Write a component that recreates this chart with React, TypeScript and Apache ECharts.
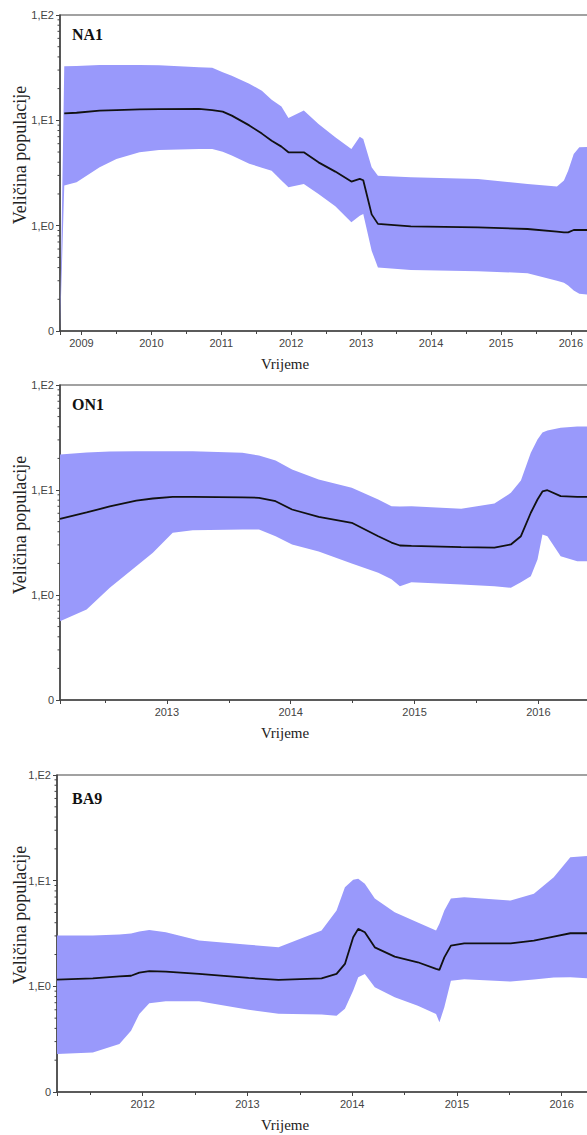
import React, { useEffect, useRef } from "react";
import * as echarts from "echarts";

// ---------- data ----------
const panelNames = ["NA1", "ON1", "BA9"];
const yAxisTitle = "Veličina populacije";
const xAxisTitle = "Vrijeme";
const yTickLabels = ["0", "1,E0", "1,E1", "1,E2"]; // for 10^-1 .. 10^2
const yMinorTicks = [
  0.2, 0.3, 0.4, 0.5, 0.6, 0.7, 0.8, 0.9,
  2, 3, 4, 5, 6, 7, 8, 9,
  20, 30, 40, 50, 60, 70, 80, 90,
];

// NA1
const na1Time = [2008.693, 2008.754, 2008.93, 2009.26, 2009.5, 2009.83, 2010.11, 2010.68, 2010.87, 2011.02, 2011.15, 2011.4, 2011.58, 2011.72, 2011.86, 2011.96, 2012.18, 2012.39, 2012.63, 2012.86, 2012.98, 2013.03, 2013.15, 2013.24, 2013.71, 2014.67, 2015.38, 2015.8, 2015.9, 2015.96, 2016.04, 2016.12, 2016.3];
const na1Upper = [0.1, 32.6, 32.8, 33.6, 33.6, 33.6, 33.3, 31.9, 31.5, 28.6, 26.5, 22.3, 19.1, 15.7, 13.5, 10.5, 12.4, 9.24, 6.9, 5.35, 7.0, 6.66, 3.58, 2.98, 2.88, 2.78, 2.49, 2.35, 2.68, 3.33, 4.8, 5.54, 5.6];
const na1Median = [null, 11.65, 11.8, 12.36, 12.5, 12.7, 12.8, 12.83, 12.5, 12.1, 11.08, 8.95, 7.48, 6.41, 5.63, 4.97, 4.97, 3.99, 3.26, 2.62, 2.78, 2.7, 1.28, 1.04, 0.985, 0.963, 0.93, 0.877, 0.864, 0.864, 0.91, 0.91, 0.91];
const na1Lower = [0.1, 2.4, 2.58, 3.58, 4.3, 4.97, 5.24, 5.35, 5.35, 5.04, 4.64, 3.88, 3.55, 3.33, 2.68, 2.31, 2.49, 2.0, 1.53, 1.075, 1.24, 1.29, 0.579, 0.4, 0.38, 0.37, 0.354, 0.3, 0.287, 0.27, 0.242, 0.226, 0.22];

// ON1
const on1Time = [2012.137, 2012.352, 2012.539, 2012.753, 2012.887, 2013.047, 2013.208, 2013.61, 2013.744, 2013.878, 2014.011, 2014.226, 2014.493, 2014.707, 2014.814, 2014.882, 2014.975, 2015.377, 2015.645, 2015.778, 2015.859, 2015.939, 2015.993, 2016.033, 2016.073, 2016.18, 2016.314, 2016.475];
const on1Upper = [21.8, 22.8, 23.3, 23.4, 23.4, 23.4, 23.4, 22.6, 21.3, 19.1, 15.7, 12.6, 10.5, 8.12, 7.01, 6.97, 7.01, 6.62, 7.44, 9.4, 12.3, 22.6, 30.3, 35.3, 36.9, 39.1, 40.2, 40.2];
const on1Median = [5.32, 6.11, 6.97, 7.94, 8.3, 8.61, 8.61, 8.52, 8.43, 7.82, 6.52, 5.55, 4.87, 3.63, 3.16, 2.96, 2.94, 2.86, 2.82, 3.03, 3.63, 6.07, 8.12, 9.68, 9.95, 8.73, 8.61, 8.61];
const on1Lower = [0.563, 0.728, 1.17, 1.88, 2.52, 3.91, 4.14, 4.2, 4.2, 3.63, 3.03, 2.6, 2.0, 1.63, 1.41, 1.21, 1.32, 1.26, 1.21, 1.17, 1.32, 1.51, 2.18, 3.77, 3.63, 2.34, 2.1, 2.1];

// BA9
const ba9Time = [2011.182, 2011.524, 2011.778, 2011.889, 2011.968, 2012.063, 2012.221, 2012.538, 2013.012, 2013.297, 2013.708, 2013.851, 2013.931, 2014.01, 2014.058, 2014.121, 2014.216, 2014.406, 2014.627, 2014.801, 2014.833, 2014.88, 2014.943, 2015.07, 2015.513, 2015.735, 2015.925, 2016.083, 2016.336];
const ba9Upper = [3.02, 3.02, 3.09, 3.16, 3.3, 3.41, 3.25, 2.71, 2.48, 2.34, 3.37, 5.21, 8.66, 10.2, 10.4, 9.33, 6.77, 5.02, 4.01, 3.37, 3.92, 5.21, 6.77, 6.96, 6.48, 7.5, 10.8, 16.7, 17.3];
const ba9Median = [1.157, 1.19, 1.24, 1.26, 1.35, 1.39, 1.38, 1.31, 1.2, 1.15, 1.19, 1.31, 1.63, 2.91, 3.5, 3.25, 2.34, 1.91, 1.69, 1.46, 1.43, 1.88, 2.43, 2.55, 2.55, 2.71, 2.96, 3.18, 3.18];
const ba9Lower = [0.229, 0.237, 0.285, 0.38, 0.548, 0.69, 0.721, 0.721, 0.601, 0.551, 0.54, 0.528, 0.615, 0.911, 1.22, 1.31, 0.978, 0.787, 0.656, 0.548, 0.456, 0.633, 1.13, 1.17, 1.11, 1.16, 1.21, 1.22, 1.18];

// ---------- layout ----------
const CHART_W = 620;
const CHART_H = 1135;
const BAND = "#9999fb";
const AXIS = "#444";

const panels = [
  { name: panelNames[0], time: na1Time, upper: na1Upper, median: na1Median, lower: na1Lower, left: 60, top: 15, height: 316, xMin: 2008.693, pxPerYear: 70.3, labelDx: 12, labelDy: 19 },
  { name: panelNames[1], time: on1Time, upper: on1Upper, median: on1Median, lower: on1Lower, left: 60, top: 385, height: 315, xMin: 2012.137, pxPerYear: 124.5, labelDx: 12, labelDy: 19 },
  { name: panelNames[2], time: ba9Time, upper: ba9Upper, median: ba9Median, lower: ba9Lower, left: 57, top: 775, height: 317, xMin: 2011.182, pxPerYear: 105.3, labelDx: 15, labelDy: 23 },
];

function buildOption() {
  const grid = panels.map((p) => ({
    left: p.left,
    top: p.top,
    width: CHART_W - p.left,
    height: p.height,
    show: true,
    borderColor: AXIS,
    borderWidth: 1.2,
    backgroundColor: "#fff",
  }));

  const xAxis = panels.map((p, i) => ({
    type: "value",
    gridIndex: i,
    min: p.xMin,
    max: p.xMin + (CHART_W - p.left) / p.pxPerYear,
    splitNumber: 8,
    minInterval: 1,
    maxInterval: 1,
    axisLine: { show: true, lineStyle: { color: AXIS, width: 1.5 } },
    axisTick: { show: true, length: 4, lineStyle: { color: AXIS, width: 1 } },
    minorTick: { show: true, splitNumber: 2, length: 3, lineStyle: { color: AXIS, width: 1 } },
    splitLine: { show: false },
    axisLabel: {
      margin: 6,
      fontSize: 11,
      fontFamily: "Liberation Sans",
      color: "#444",
      formatter: (v: number) => (Math.abs(v - Math.round(v)) < 1e-6 ? String(Math.round(v)) : ""),
    },
  }));

  const yAxis = panels.map((p, i) => ({
    type: "log",
    logBase: 10,
    gridIndex: i,
    min: 0.1,
    max: 100,
    axisLine: { show: true, lineStyle: { color: AXIS, width: 1.5 } },
    axisTick: { show: true, length: 4, lineStyle: { color: AXIS, width: 1 } },
    splitLine: { show: false },
    axisLabel: {
      margin: 6,
      fontSize: 11,
      fontFamily: "Liberation Sans",
      color: "#444",
      formatter: (v: number) => yTickLabels[Math.round(Math.log10(v)) + 1] ?? "",
    },
  }));

  const series: any[] = [];
  panels.forEach((p, i) => {
    series.push({
      type: "custom",
      xAxisIndex: i,
      yAxisIndex: i,
      silent: true,
      z: 1,
      data: p.time.map((t, k) => [t, p.lower[k], p.upper[k]]),
      encode: { x: 0, y: [1, 2] },
      renderItem: (params: any, api: any) => {
        if (params.dataIndex !== 0) return null;
        const pts: number[][] = [];
        for (let k = 0; k < p.time.length; k++) pts.push(api.coord([p.time[k], p.upper[k]]));
        for (let k = p.time.length - 1; k >= 0; k--) pts.push(api.coord([p.time[k], p.lower[k]]));
        return { type: "polygon", shape: { points: pts }, style: { fill: BAND } };
      },
    });
    series.push({
      type: "line",
      xAxisIndex: i,
      yAxisIndex: i,
      silent: true,
      z: 3,
      showSymbol: false,
      symbol: "none",
      data: p.time.map((t, k) => [t, p.median[k]]),
      lineStyle: { color: "#111", width: 1.8 },
    });
    series.push({
      type: "custom",
      xAxisIndex: i,
      yAxisIndex: i,
      silent: true,
      clip: false,
      z: 4,
      data: yMinorTicks.map((v) => [p.xMin, v]),
      encode: { x: 0, y: 1 },
      renderItem: (params: any, api: any) => {
        const pt = api.coord([api.value(0), api.value(1)]);
        return {
          type: "line",
          shape: { x1: pt[0] - 2.5, y1: pt[1], x2: pt[0], y2: pt[1] },
          style: { stroke: AXIS, lineWidth: 1 },
        };
      },
    });
  });

  const graphic: any[] = [];
  panels.forEach((p) => {
    graphic.push({
      type: "text",
      x: p.left + p.labelDx,
      y: p.top + p.labelDy,
      z: 10,
      style: {
        text: p.name,
        font: 'bold 16px "Liberation Serif"',
        fill: "#111",
        textAlign: "left",
        textVerticalAlign: "middle",
        align: "left",
        verticalAlign: "middle",
      },
    });
    graphic.push({
      type: "text",
      x: 20,
      y: p.top + 140,
      rotation: Math.PI / 2,
      z: 10,
      style: {
        text: yAxisTitle,
        font: '18px "Liberation Serif"',
        fill: "#222",
        textAlign: "center",
        textVerticalAlign: "middle",
        align: "center",
        verticalAlign: "middle",
      },
    });
    graphic.push({
      type: "text",
      x: 285,
      y: p.top + p.height + 33,
      z: 10,
      style: {
        text: xAxisTitle,
        font: '15px "Liberation Serif"',
        fill: "#222",
        textAlign: "center",
        textVerticalAlign: "middle",
        align: "center",
        verticalAlign: "middle",
      },
    });
  });

  return {
    animation: false,
    backgroundColor: "#fff",
    grid,
    xAxis,
    yAxis,
    series,
    graphic,
  };
}

export default function App() {
  const ref = useRef<HTMLDivElement>(null);
  useEffect(() => {
    if (!ref.current) return;
    const chart = echarts.init(ref.current, undefined, { renderer: "svg" });
    chart.setOption(buildOption() as any);
    return () => chart.dispose();
  }, []);
  return (
    <div style={{ position: "absolute", left: 0, top: 0, width: 587, height: CHART_H, overflow: "hidden", background: "#fff" }}>
      <div ref={ref} style={{ width: CHART_W, height: CHART_H }} />
    </div>
  );
}
